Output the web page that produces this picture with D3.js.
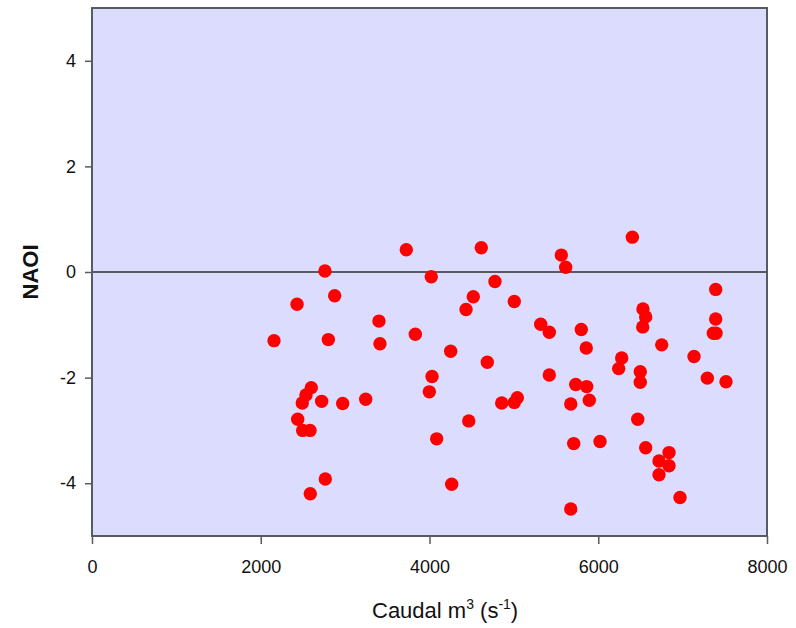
<!DOCTYPE html>
<html>
<head>
<meta charset="utf-8">
<script src="https://cdn.jsdelivr.net/npm/d3@7"></script>
<style>
  body { margin: 0; background: #fff; }
  text { font-family: "Liberation Sans", Arial, sans-serif; fill: #111; }
</style>
</head>
<body>
<script>
var width = 796
var height = 628

// data
var caudal = [2157, 2430, 2761, 2876, 2801, 3401, 3413, 3725, 3832, 4021,
  4614, 4776, 4519, 4433, 4251, 4685, 4030, 3998, 2599, 2536,
  2492, 2722, 2971, 3244, 2438, 2497, 2584, 4465, 4085, 2765,
  2587, 4263, 5562, 5614, 6404, 5005, 5318, 5420, 5799, 5858,
  5420, 5733, 5863, 5894, 5674, 4856, 5005, 5041, 5709, 6021,
  5674, 6530, 6562, 6527, 6752, 6278, 6242, 6498, 6498, 7135,
  7392, 7392, 7364, 7396, 7293, 7514, 6468, 6562, 6720, 6839,
  6839, 6720, 6969];
var naoi = [-1.30, -0.61, 0.02, -0.45, -1.28, -0.93, -1.36, 0.42, -1.18, -0.09,
  0.46, -0.18, -0.47, -0.71, -1.50, -1.71, -1.98, -2.27, -2.19, -2.33,
  -2.48, -2.45, -2.49, -2.41, -2.79, -3.00, -3.00, -2.82, -3.16, -3.92,
  -4.20, -4.02, 0.32, 0.09, 0.66, -0.56, -0.99, -1.14, -1.09, -1.44,
  -1.95, -2.13, -2.17, -2.43, -2.50, -2.48, -2.47, -2.38, -3.25, -3.21,
  -4.49, -0.70, -0.85, -1.04, -1.38, -1.63, -1.83, -1.89, -2.09, -1.60,
  -0.33, -0.89, -1.16, -1.16, -2.01, -2.08, -2.79, -3.33, -3.58, -3.42,
  -3.67, -3.84, -4.27];
var xTicks = [0, 2000, 4000, 6000, 8000];
var yTicks = [-4, -2, 0, 2, 4];

var svg = d3.select("body").append("svg")
    .attr("width", width)
    .attr("height", height)

var x = d3.scaleLinear().domain([0, 8000]).range([92, 767])
var y = d3.scaleLinear().domain([-5, 5]).range([536, 8])

// plot background
svg.append("rect")
    .attr("x", x(0))
    .attr("y", y(5))
    .attr("width", x(8000) - x(0))
    .attr("height", y(-5) - y(5))
    .attr("fill", "#dcdcfe")

// zero line
svg.append("line")
    .attr("x1", x(0))
    .attr("x2", x(8000))
    .attr("y1", y(0))
    .attr("y2", y(0))
    .attr("stroke", "#5a5a62")
    .attr("stroke-width", 2)

// points
svg.append("g").selectAll("circle")
    .data(caudal)
    .join("circle")
    .attr("cx", function(d) { return x(d) })
    .attr("cy", function(d, i) { return y(naoi[i]) })
    .attr("r", 6.7)
    .attr("fill", "#ff0000")

// frame
svg.append("rect")
    .attr("x", x(0))
    .attr("y", y(5))
    .attr("width", x(8000) - x(0))
    .attr("height", y(-5) - y(5))
    .attr("fill", "none")
    .attr("stroke", "#5a5a62")
    .attr("stroke-width", 2)

// axes (plain hyphen for negatives, like the original)
var fmt = function(d) { return String(d) }
svg.append("g")
    .attr("transform", "translate(0," + y(-5) + ")")
    .call(d3.axisBottom(x).tickValues(xTicks).tickSize(8).tickPadding(16).tickFormat(fmt))
svg.append("g")
    .attr("transform", "translate(" + x(0) + ",0)")
    .call(d3.axisLeft(y).tickValues(yTicks).tickSize(7).tickPadding(9).tickFormat(fmt))

svg.selectAll(".domain").remove()
svg.selectAll(".tick line").attr("stroke", "#5a5a62").attr("stroke-width", 1.5)
svg.selectAll(".tick text")
    .style("font-family", "'Liberation Sans', Arial, sans-serif")
    .style("font-size", "18px")
    .attr("fill", "#111")

// y title
svg.append("text")
    .attr("transform", "translate(38,272) rotate(-90)")
    .attr("text-anchor", "middle")
    .style("font-size", "22px")
    .style("font-weight", "bold")
    .text("NAOI")

// x title
var xt = svg.append("text")
    .attr("x", 372)
    .attr("y", 618)
    .style("font-size", "22px")
xt.append("tspan").text("Caudal m")
xt.append("tspan").attr("dy", -9).style("font-size", "14px").text("3")
xt.append("tspan").attr("dy", 9).text(" (s")
xt.append("tspan").attr("dy", -9).style("font-size", "14px").text("-1")
xt.append("tspan").attr("dy", 9).text(")")
</script>
</body>
</html>
